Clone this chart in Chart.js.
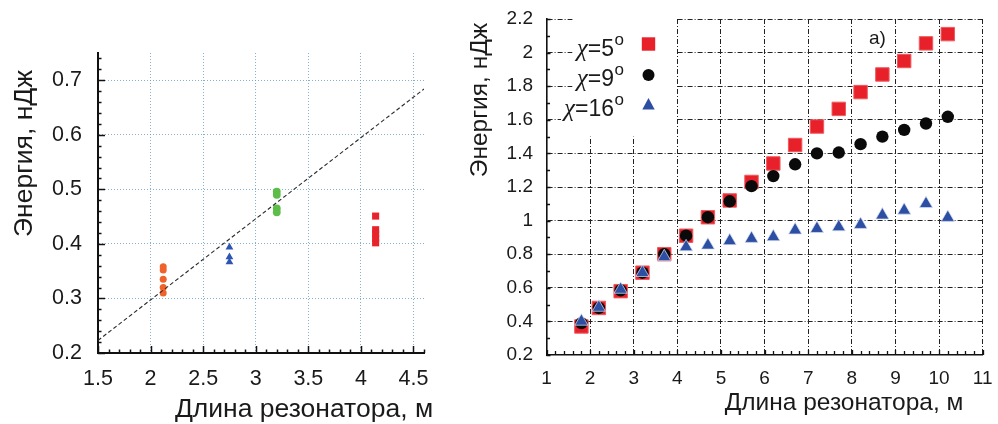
<!DOCTYPE html>
<html>
<head>
<meta charset="utf-8">
<script src="https://cdn.jsdelivr.net/npm/chart.js@4.4.0/dist/chart.umd.min.js"></script>
<style>
  html, body { margin: 0; padding: 0; background: #fff; }
  #wrap { position: relative; width: 998px; height: 424px; overflow: hidden; }
  #leftChart { position: absolute; left: 0; top: 0; }
  #rightChart { position: absolute; left: 440px; top: 0; }
</style>
</head>
<body>
<div id="wrap">
  <canvas id="leftChart" width="440" height="424"></canvas>
  <canvas id="rightChart" width="558" height="424"></canvas>
</div>
<script>
// left panel: measured energy at four resonator lengths + linear fit
const leftXTicks = [1.5, 2, 2.5, 3, 3.5, 4, 4.5];
const leftYTicks = [0.2, 0.3, 0.4, 0.5, 0.6, 0.7];
const orangeX = [2.12, 2.12, 2.12, 2.12, 2.12];
const orangeY = [0.358, 0.352, 0.335, 0.32, 0.31];
const blueX = [2.75, 2.75, 2.75];
const blueY = [0.394, 0.376, 0.367];
const greenX = [3.2, 3.2, 3.2, 3.2];
const greenY = [0.496, 0.49, 0.465, 0.458];
const redX = [4.14, 4.14, 4.14, 4.14, 4.14];
const redY = [0.451, 0.426, 0.418, 0.41, 0.402];
const fitX = [1.5, 4.6];
const fitY = [0.223, 0.684];

// right panel: energy vs resonator length for three angles
const lengths = [1.8, 2.2, 2.7, 3.2, 3.7, 4.2, 4.7, 5.2, 5.7, 6.2, 6.7, 7.2, 7.7, 8.2, 8.7, 9.2, 9.7, 10.2];
const chi5 = [0.37, 0.48, 0.58, 0.69, 0.8, 0.91, 1.02, 1.12, 1.23, 1.34, 1.45, 1.56, 1.665, 1.765, 1.87, 1.95, 2.055, 2.11];
const chi9 = [0.39, 0.48, 0.585, 0.69, 0.8, 0.91, 1.02, 1.115, 1.205, 1.265, 1.335, 1.4, 1.405, 1.455, 1.5, 1.54, 1.578, 1.618];
const chi16 = [0.4, 0.483, 0.59, 0.69, 0.784, 0.843, 0.853, 0.879, 0.893, 0.903, 0.943, 0.952, 0.962, 0.976, 1.032, 1.061, 1.1, 1.018];
const rightXTicks = [1, 2, 3, 4, 5, 6, 7, 8, 9, 10, 11];
const rightYTicks = [0.2, 0.4, 0.6, 0.8, 1, 1.2, 1.4, 1.6, 1.8, 2, 2.2];
const legendAngles = ["5", "9", "16"];

const FONT = '"Liberation Sans", Arial, Helvetica, sans-serif';
const TEXT = "#1a1a1a";

function pts(xs, ys) {
  return xs.map((x, i) => ({ x, y: ys[i] }));
}

function forceTicks(values) {
  return (scale) => {
    scale.ticks = values.map((v) => ({ value: v }));
  };
}

// fixed axis box size, and no extra room for edge labels
function fixedSize(prop, size) {
  return (scale) => {
    scale[prop] = size;
    scale.paddingLeft = 0;
    scale.paddingRight = 0;
    scale.paddingTop = 0;
    scale.paddingBottom = 0;
  };
}

function isMultiple(v, step) {
  const r = v / step;
  return Math.abs(r - Math.round(r)) < 1e-6;
}

// small inward tick marks on both axes
function axisTicksPlugin(o) {
  return {
    id: "axisTicks",
    afterDatasetsDraw(chart) {
      const { ctx, chartArea: a, scales: { x, y } } = chart;
      ctx.save();
      ctx.strokeStyle = "#111";
      ctx.lineWidth = o.width;
      ctx.beginPath();
      const nx = Math.round((o.xMax - o.xMin) / o.xStep);
      for (let i = 0; i <= nx; i++) {
        const v = o.xMin + i * o.xStep;
        const px = Math.round(x.getPixelForValue(v)) + 0.5;
        const len = isMultiple(v - o.xMin, o.xMajor) ? o.xMajorLen : o.xMinorLen;
        ctx.moveTo(px, a.bottom);
        ctx.lineTo(px, a.bottom - len);
      }
      const ny = Math.round((o.yMax - o.yMin) / o.yStep);
      for (let i = 0; i <= ny; i++) {
        const v = o.yMin + i * o.yStep;
        const py = Math.round(y.getPixelForValue(v)) + 0.5;
        const len = isMultiple(v - o.yMin, o.yMajor) ? o.yMajorLen : o.yMinorLen;
        ctx.moveTo(a.left, py);
        ctx.lineTo(a.left + len, py);
      }
      ctx.stroke();
      ctx.restore();
    },
  };
}

function axisTitlesPlugin(t) {
  return {
    id: "axisTitles",
    afterDraw(chart) {
      const ctx = chart.ctx;
      ctx.save();
      ctx.fillStyle = TEXT;
      ctx.font = t.size + "px " + FONT;
      ctx.textAlign = "center";
      ctx.textBaseline = "alphabetic";
      ctx.fillText(t.xText, t.xCenter, t.xBase);
      ctx.translate(t.yBase, t.yCenter);
      ctx.rotate(-Math.PI / 2);
      ctx.fillText(t.yText, 0, 0);
      ctx.restore();
    },
  };
}

function linearScale(min, max, ticks, size, pad, fit, gridColor, hideAt, dash, borderW) {
  return {
    type: "linear",
    min,
    max,
    afterBuildTicks: forceTicks(ticks),
    afterFit: fit,
    grid: {
      drawTicks: false,
      lineWidth: 1,
      color: (c) => (c.tick && Math.abs(c.tick.value - hideAt) < 1e-9 ? "rgba(0,0,0,0)" : gridColor),
    },
    border: { display: true, color: "#111", width: borderW, dash },
    ticks: {
      padding: pad,
      color: TEXT,
      font: { family: FONT, size },
      autoSkip: false,
      maxRotation: 0,
      callback: (v) => String(v),
    },
  };
}

// ---------- left chart ----------
new Chart(document.getElementById("leftChart"), {
  type: "scatter",
  data: {
    datasets: [
      {
        data: pts(fitX, fitY),
        showLine: true,
        borderColor: "#2a2a2a",
        borderWidth: 1.1,
        borderDash: [4, 2.5],
        pointRadius: 0,
        order: 0,
      },
      { data: pts(orangeX, orangeY), pointStyle: "circle", pointRadius: 3.5, backgroundColor: "#f0622c", borderWidth: 0, order: 1 },
      { data: pts(blueX, blueY), pointStyle: "triangle", pointRadius: 4.5, backgroundColor: "#2f55b4", borderWidth: 0, order: 1 },
      { data: pts(greenX, greenY), pointStyle: "circle", pointRadius: 3.9, backgroundColor: "#5cbd48", borderWidth: 0, order: 1 },
      { data: pts(redX, redY), pointStyle: "rect", pointRadius: 5, backgroundColor: "#e8232c", borderWidth: 0, order: 1 },
    ],
  },
  options: {
    responsive: false,
    animation: false,
    layout: { autoPadding: false, padding: { left: 0, top: 53, right: 16, bottom: 0 } },
    plugins: { legend: { display: false }, tooltip: { enabled: false } },
    scales: {
      x: linearScale(1.5, 4.6, leftXTicks, 21.5, 13, fixedSize("height", 71), "rgba(95,150,190,0.75)", 1.5, [1, 2], 2),
      y: linearScale(0.2, 0.75, leftYTicks, 21.5, 16, fixedSize("width", 98), "rgba(95,150,190,0.75)", 0.2, [1, 2], 2),
    },
  },
  plugins: [
    axisTicksPlugin({
      width: 1.5,
      xMin: 1.5, xMax: 4.6, xStep: 0.1, xMajor: 0.5, xMajorLen: 7, xMinorLen: 3.5,
      yMin: 0.2, yMax: 0.74, yStep: 0.02, yMajor: 0.1, yMajorLen: 7, yMinorLen: 3.5,
    }),
    axisTitlesPlugin({
      size: 26.5,
      xText: "Длина резонатора, м", xCenter: 304, xBase: 416.5,
      yText: "Энергия, нДж", yCenter: 153.5, yBase: 31.5,
    }),
  ],
});

// ---------- right chart ----------
const rightLegend = {
  id: "rightLegend",
  beforeDatasetsDraw(chart) {
    const { ctx, scales: { x, y } } = chart;
    ctx.save();
    ctx.fillStyle = "#fff";
    const x0 = x.getPixelForValue(1.6);
    const x1 = x.getPixelForValue(4) - 1;
    const y0 = y.getPixelForValue(2.2) - 2;
    const y1 = y.getPixelForValue(1.5);
    ctx.fillRect(x0, y0, x1 - x0, y1 - y0);

    const rows = [48, 77.5, 108];
    const right = 183.5;
    const markX = 208.5;
    const markY = [44, 75, 105];
    legendAngles.forEach((ang, i) => {
      const cy = rows[i];
      ctx.font = "17px " + FONT;
      const wSup = ctx.measureText("o").width;
      ctx.font = "23px " + FONT;
      const wMain = ctx.measureText("=" + ang).width;
      ctx.font = 'italic 25px "Liberation Serif", "DejaVu Serif", serif';
      const wChi = ctx.measureText("χ").width;
      const left = right - wSup - wMain - wChi;
      ctx.fillStyle = "#fff";
      ctx.fillRect(left - 3, cy - 14, x0 - left + 3, 27);
      ctx.fillStyle = TEXT;
      ctx.textBaseline = "alphabetic";
      ctx.textAlign = "left";
      ctx.fillText("χ", left, cy + 8);
      ctx.font = "23px " + FONT;
      ctx.fillText("=" + ang, left + wChi, cy + 8.2);
      ctx.font = "17px " + FONT;
      ctx.fillText("o", left + wChi + wMain + 0.5, cy - 3);
    });

    // legend markers
    ctx.fillStyle = "#e8202a";
    ctx.fillRect(markX - 6.7, markY[0] - 6.7, 13.4, 13.4);
    ctx.fillStyle = "#0a0a0a";
    ctx.beginPath();
    ctx.arc(markX, markY[1], 6, 0, Math.PI * 2);
    ctx.fill();
    ctx.fillStyle = "#2d4fa3";
    ctx.beginPath();
    ctx.moveTo(markX, markY[2] - 7);
    ctx.lineTo(markX + 6.2, markY[2] + 4.5);
    ctx.lineTo(markX - 6.2, markY[2] + 4.5);
    ctx.closePath();
    ctx.fill();

    ctx.fillStyle = TEXT;
    ctx.font = "19px " + FONT;
    ctx.textAlign = "center";
    ctx.textBaseline = "middle";
    ctx.fillText("a)", 437.5, 39);
    ctx.restore();
  },
};

new Chart(document.getElementById("rightChart"), {
  type: "scatter",
  data: {
    datasets: [
      { label: "χ=5°", data: pts(lengths, chi5), pointStyle: "rect", pointRadius: 9.5, backgroundColor: "#e8202a", borderColor: "#ee5a5e", borderWidth: 1, order: 3 },
      { label: "χ=9°", data: pts(lengths, chi9), pointStyle: "circle", pointRadius: 6.2, backgroundColor: "#0a0a0a", borderWidth: 0, order: 2 },
      { label: "χ=16°", data: pts(lengths, chi16), pointStyle: "triangle", pointRadius: 7.6, backgroundColor: "#2d4fa3", borderColor: "rgba(220,226,245,0.9)", borderWidth: 0.8, order: 1 },
    ],
  },
  options: {
    responsive: false,
    animation: false,
    layout: { autoPadding: false, padding: { left: 0, top: 19, right: 15.3, bottom: 0 } },
    plugins: { legend: { display: false }, tooltip: { enabled: false } },
    scales: {
      x: linearScale(1, 11, rightXTicks, 19, 12, fixedSize("height", 69), "#222", 1, [5, 2, 1, 2], 1.6),
      y: linearScale(0.2, 2.2, rightYTicks, 19, 13.5, fixedSize("width", 106.5), "#222", 0.2, [5, 2, 1, 2], 1.6),
    },
  },
  plugins: [
    rightLegend,
    axisTicksPlugin({
      width: 1.3,
      xMin: 1, xMax: 11, xStep: 0.2, xMajor: 1, xMajorLen: 5, xMinorLen: 4,
      yMin: 0.2, yMax: 2.2, yStep: 0.1, yMajor: 0.2, yMajorLen: 4, yMinorLen: 3.5,
    }),
    axisTitlesPlugin({
      size: 24.5,
      xText: "Длина резонатора, м", xCenter: 404, xBase: 410,
      yText: "Энергия, нДж", yCenter: 100, yBase: 46.5,
    }),
  ],
});
</script>
</body>
</html>
